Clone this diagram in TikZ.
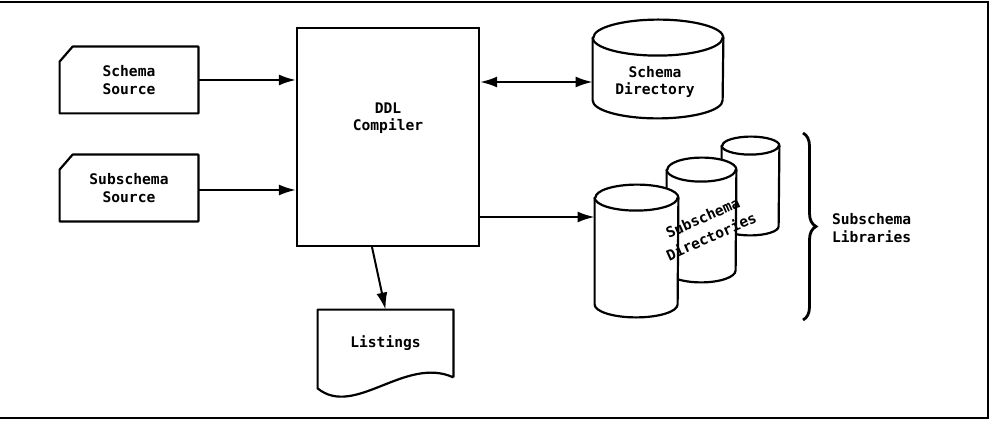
\documentclass[tikz,border=0pt]{standalone}
\usepackage{fontspec}
\setmonofont{DejaVu Sans Mono}
\usetikzlibrary{arrows.meta,positioning,calc,decorations.pathreplacing}

\begin{document}
\begin{tikzpicture}[x=0.5pt, y=-0.5pt,
  every node/.style={font=\ttfamily\bfseries\fontsize{7.3}{8.8}\selectfont, align=center},
  srcbox/.style={minimum width=69pt, minimum height=33pt, inner sep=0pt},
  compbox/.style={draw, line width=1.1pt, minimum width=91pt, minimum height=109pt, inner sep=0pt},
  cylbox/.style={inner sep=0pt},
  outline/.style={line width=1.1pt, line join=round},
  arr/.style={-{Latex[length=8.5pt,width=5.5pt]}, line width=1pt},
  dblarr/.style={{Latex[length=8.5pt,width=5.5pt]}-{Latex[length=8.5pt,width=5.5pt]}, line width=1pt},
  frame/.style={line width=1pt}
]
  \useasboundingbox (0,0) rectangle (994,422);
  \draw[frame] (0,2) -- (988,2) -- (988,418) -- (0,418);

  % sources
  \node[srcbox] (ssrc) at (129,80) {Schema\\Source};
  \node[srcbox] (subsrc) at (129,188) {Subschema\\Source};
  \foreach \n in {ssrc,subsrc}
    \draw[outline] ([yshift=-7.5pt]\n.north west) -- ([xshift=6.5pt]\n.north west)
      -- (\n.north east) -- (\n.south east) -- (\n.south west) -- cycle;

  % compiler
  \node[compbox] (ddl) at (388,137) {};
  \node (ddltxt) at ([yshift=9.5pt]ddl.center) {DDL\\Compiler};

  % directories (back to front)
  \node[cylbox, minimum width=65pt, minimum height=49pt] (sdir) at (658,69) {};
  \node[cylbox, minimum width=28.5pt, minimum height=49pt] (cylc) at (750.5,186) {};
  \node[cylbox, minimum width=34.5pt, minimum height=62pt] (cylb) at (701.5,220) {};
  \node[cylbox, minimum width=41.5pt, minimum height=66pt] (cyla) at (636.5,251) {};
  \foreach \c/\w/\r in {sdir/32.5pt/9pt, cylc/14.25pt/4.5pt, cylb/17.25pt/6pt, cyla/20.75pt/6.5pt} {
    \draw[outline, fill=white] ([yshift=-\r]\c.north west) -- ([yshift=\r]\c.south west)
      arc[start angle=180, end angle=360, x radius=\w, y radius=\r]
      -- ([yshift=-\r]\c.north east)
      arc[start angle=0, end angle=180, x radius=\w, y radius=\r] -- cycle;
    \draw[outline] ([yshift=-\r]\c.north west)
      arc[start angle=180, end angle=360, x radius=\w, y radius=\r];
  }
  \node (sdirtxt) at ([xshift=-1.5pt,yshift=-6.5pt]sdir.center) {Schema\\Directory};
  \node[rotate=24] (subdir) at (707,227) {Subschema\\[1.5pt]Directories};

  % listings
  \node[minimum width=67.5pt, minimum height=33.5pt, inner sep=0pt] (lst) at (385.5,343.5) {Listings};
  \draw[outline] (lst.south east) -- (lst.north east) -- (lst.north west)
    -- ([yshift=-5.5pt]lst.south west) .. controls +(18.5pt,-15pt) and +(-24pt,11pt) .. (lst.south east);

  % libraries
  \coordinate (brtop) at (803,133);
  \coordinate (brbot) at (803,320);
  \draw[line width=1.4pt, decorate, decoration={brace, amplitude=6.5pt}] (brtop) -- (brbot);
  \node[align=left, anchor=west] (lib) at (825,228) {Subschema\\Libraries};

  % flows
  \draw[arr] (ssrc) -- (ssrc -| ddl.west);
  \draw[arr] (subsrc.east) ++(0,2) coordinate (subout) -- (subout -| ddl.west);
  \coordinate (sdin) at ([yshift=-6.5pt]sdir.west);
  \draw[dblarr] (sdin -| ddl.east) -- (sdin);
  \coordinate (cylin) at ([yshift=17pt]cyla.west);
  \draw[arr] (cylin -| ddl.east) -- (cylin);
  \draw[arr] ([xshift=-8pt]ddl.south) -- (lst.north);
\end{tikzpicture}
\end{document}
